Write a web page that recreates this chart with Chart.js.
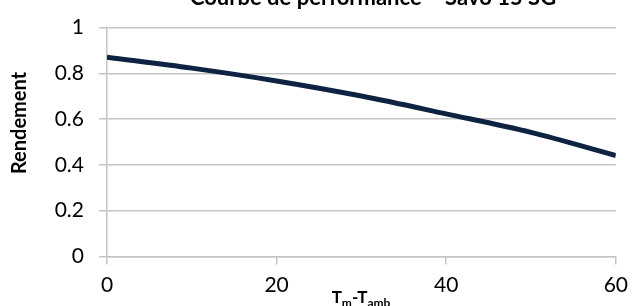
<!DOCTYPE html>
<html>
<head>
<meta charset="utf-8">
<script src="https://cdn.jsdelivr.net/npm/chart.js@4/dist/chart.umd.min.js"></script>
<style>
html,body{margin:0;padding:0;background:#fff;overflow:hidden;}
#wrap{width:636px;height:306px;position:relative;}
canvas{display:block;}
</style>
</head>
<body>
<div id="wrap"><canvas id="c" width="636" height="306"></canvas></div>
<script>
// ---- data ----
const titleText = 'Courbe de performance – Savo 15 SG';
const yTitle = 'Rendement';
const xTitleParts = [['T', false], ['m', true], ['-T', false], ['amb', true]];
const deltaT = [0, 10, 20, 30, 40, 50, 60];
const rendement = [0.871, 0.823, 0.767, 0.701, 0.623, 0.542, 0.441];
const xTickValues = [0, 20, 40, 60];
const yTickLabels = ['0', '0.2', '0.4', '0.6', '0.8', '1'];

const FONT = 'Lato, "Open Sans", "Liberation Sans", sans-serif';
const GRID = '#c4c4c4';

const textPlugin = {
  id: 'texts',
  afterDraw(chart) {
    const ctx = chart.ctx;
    ctx.save();
    ctx.fillStyle = '#000';
    // title (mostly cut off at top)
    ctx.font = 'bold 22px ' + FONT;
    ctx.textAlign = 'center';
    ctx.textBaseline = 'alphabetic';
    ctx.fillText(titleText, 373, 5);
    // y axis title
    ctx.save();
    ctx.translate(26, 123);
    ctx.rotate(-Math.PI / 2);
    ctx.font = 'bold 20px ' + FONT;
    ctx.textAlign = 'center';
    ctx.fillText(yTitle, 0, 0);
    ctx.restore();
    // x axis title with subscripts
    const big = 'bold 17px ' + FONT, small = 'bold 12px ' + FONT;
    let total = 0;
    xTitleParts.forEach(([t, sub]) => { ctx.font = sub ? small : big; total += ctx.measureText(t).width; });
    let x = 361 - total / 2;
    ctx.textAlign = 'left';
    xTitleParts.forEach(([t, sub]) => {
      ctx.font = sub ? small : big;
      ctx.fillText(t, x, sub ? 307 : 303);
      x += ctx.measureText(t).width;
    });
    ctx.restore();
  }
};

new Chart(document.getElementById('c'), {
  type: 'line',
  data: {
    datasets: [{
      data: deltaT.map((x, i) => ({ x: x, y: rendement[i] })),
      borderColor: '#0d2341',
      borderWidth: 5,
      pointRadius: 0,
      fill: false,
      cubicInterpolationMode: 'monotone'
    }]
  },
  options: {
    responsive: false,
    animation: false,
    devicePixelRatio: 1,
    layout: { padding: { left: 0, right: 13, top: 24, bottom: 0 } },
    plugins: { legend: { display: false }, title: { display: false }, tooltip: { enabled: false } },
    scales: {
      x: {
        type: 'linear',
        min: 0, max: 60,
        afterBuildTicks: s => { s.ticks = xTickValues.map(v => ({ value: v })); },
        ticks: { color: '#000', font: { family: FONT, size: 21 }, padding: 8, maxRotation: 0 },
        grid: { drawOnChartArea: false, drawTicks: true, tickLength: 8, color: GRID, lineWidth: 1.5 },
        border: { color: GRID, width: 1.5 },
        afterFit: s => { s.height = 306 - 256.5; }
      },
      y: {
        min: 0, max: 1,
        afterBuildTicks: s => { s.ticks = yTickLabels.map(v => ({ value: parseFloat(v) })); },
        ticks: { color: '#000', font: { family: FONT, size: 21 }, padding: 15,
          callback: (v) => yTickLabels.find(l => parseFloat(l) === v) },
        grid: { color: GRID, lineWidth: 1.5, tickLength: 8 },
        border: { color: GRID, width: 1.5 },
        afterFit: s => { s.width = 107; }
      }
    }
  },
  plugins: [textPlugin]
});
</script>
</body>
</html>
